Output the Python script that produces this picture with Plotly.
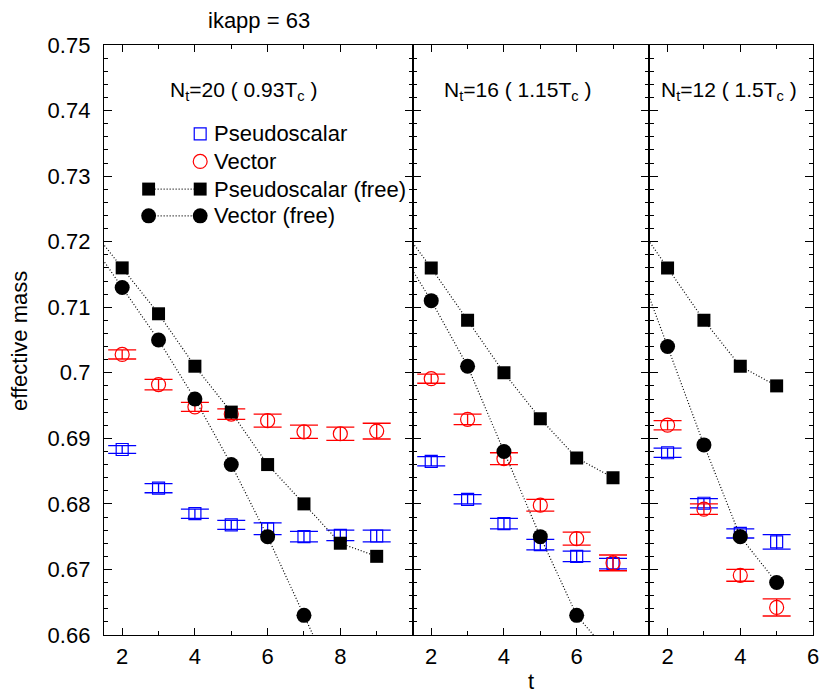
import plotly.graph_objects as go

# ---------------- data ----------------
# Panel 1: N_t = 20 (0.93 Tc)
p1_t = [2, 3, 4, 5, 6, 7, 8, 9]
p1_ps = [0.6883, 0.6824, 0.6785, 0.6768, 0.6762, 0.6750, 0.6752, 0.6751]
p1_ps_err = [0.0006, 0.0007, 0.0007, 0.0007, 0.0009, 0.0008, 0.0008, 0.0009]
p1_v = [0.7028, 0.6982, 0.6948, 0.6937, 0.6927, 0.6910, 0.6907, 0.6911]
p1_v_err = [0.0007, 0.0008, 0.0007, 0.0008, 0.0010, 0.0010, 0.0010, 0.0012]
p1_free_ps_t = [1, 2, 3, 4, 5, 6, 7, 8, 9]
p1_free_ps = [0.723, 0.716, 0.709, 0.701, 0.694, 0.686, 0.680, 0.674, 0.672]
p1_free_v_t = [1, 2, 3, 4, 5, 6, 7, 8]
p1_free_v = [0.721, 0.713, 0.705, 0.696, 0.686, 0.675, 0.663, 0.651]

# Panel 2: N_t = 16 (1.15 Tc)
p2_t = [2, 3, 4, 5, 6, 7]
p2_ps = [0.6865, 0.6807, 0.6770, 0.6738, 0.6720, 0.6709]
p2_ps_err = [0.0007, 0.0007, 0.0008, 0.0008, 0.0008, 0.0008]
p2_v = [0.6991, 0.6929, 0.6869, 0.6798, 0.6747, 0.6710]
p2_v_err = [0.0007, 0.0008, 0.0009, 0.0009, 0.0010, 0.0012]
p2_free_ps_t = [1, 2, 3, 4, 5, 6, 7]
p2_free_ps = [0.7235, 0.716, 0.708, 0.700, 0.693, 0.687, 0.684]
p2_free_v_t = [1, 2, 3, 4, 5, 6, 7]
p2_free_v = [0.7200, 0.711, 0.701, 0.688, 0.675, 0.663, 0.6565]

# Panel 3: N_t = 12 (1.5 Tc)
p3_t = [2, 3, 4, 5]
p3_ps = [0.6878, 0.6801, 0.6755, 0.6742]
p3_ps_err = [0.0007, 0.0007, 0.0007, 0.0011]
p3_v = [0.6920, 0.6792, 0.6691, 0.6642]
p3_v_err = [0.0007, 0.0008, 0.0009, 0.0013]
p3_free_ps_t = [1, 2, 3, 4, 5]
p3_free_ps = [0.724, 0.716, 0.708, 0.701, 0.698]
p3_free_v_t = [1, 2, 3, 4, 5]
p3_free_v = [0.719, 0.704, 0.689, 0.675, 0.668]

panel_labels = ["N<sub>t</sub>=20 ( 0.93T<sub>c</sub> )",
                "N<sub>t</sub>=16 ( 1.15T<sub>c</sub> )",
                "N<sub>t</sub>=12 ( 1.5T<sub>c</sub> )"]
x_ranges = [[1.5, 10], [1.5, 8], [1.5, 6]]
x_tickvals = [[2, 4, 6, 8], [2, 4, 6], [2, 4, 6]]
x_minorvals = [[3, 5, 7, 9], [3, 5, 7], [3, 5]]
y_range = [0.66, 0.75]
legend_names = ["Pseudoscalar", "Vector", "Pseudoscalar (free)", "Vector (free)"]

# ---------------- figure ----------------
W, H = 831, 693
ML, MR, MT, MB = 104, 12, 44.5, 58
PW, PH = W - ML - MR, H - MT - MB
FONT = "Liberation Sans, Arial, Helvetica, sans-serif"
FS = 22
BLUE, RED, BLACK = "#0000ff", "#ff0000", "#000000"
DOT = "1px,2px"


def px(x):
    return (x - ML) / PW


def py(y):
    return (H - MB - y) / PH


spans = [r[1] - r[0] for r in x_ranges]
tot = sum(spans)
bounds = [0]
for s in spans:
    bounds.append(bounds[-1] + s / tot)
bounds[-1] = 1.0

fig = go.Figure()

panels = [
    (p1_t, p1_ps, p1_ps_err, p1_v, p1_v_err, p1_free_ps_t, p1_free_ps, p1_free_v_t, p1_free_v),
    (p2_t, p2_ps, p2_ps_err, p2_v, p2_v_err, p2_free_ps_t, p2_free_ps, p2_free_v_t, p2_free_v),
    (p3_t, p3_ps, p3_ps_err, p3_v, p3_v_err, p3_free_ps_t, p3_free_ps, p3_free_v_t, p3_free_v),
]

for i, (t, ps, pse, v, ve, fpt, fps, fvt, fv) in enumerate(panels):
    xa = "x" if i == 0 else f"x{i+1}"
    ya = "y" if i == 0 else f"y{i+1}"
    fig.add_trace(go.Scatter(
        x=t, y=ps, mode="markers", xaxis=xa, yaxis=ya, showlegend=False,
        name=legend_names[0],
        marker=dict(symbol="square-open", size=12, color=BLUE, line=dict(width=1.2, color=BLUE)),
        error_y=dict(type="data", array=pse, visible=True, color=BLUE, thickness=1.3, width=14)))
    fig.add_trace(go.Scatter(
        x=t, y=v, mode="markers", xaxis=xa, yaxis=ya, showlegend=False,
        name=legend_names[1],
        marker=dict(symbol="circle-open", size=14, color=RED, line=dict(width=1.2, color=RED)),
        error_y=dict(type="data", array=ve, visible=True, color=RED, thickness=1.3, width=14)))
    fig.add_trace(go.Scatter(
        x=fpt, y=fps, mode="lines+markers", xaxis=xa, yaxis=ya, showlegend=False,
        name=legend_names[2],
        line=dict(color=BLACK, width=1.2, dash=DOT),
        marker=dict(symbol="square", size=13, color=BLACK)))
    fig.add_trace(go.Scatter(
        x=fvt, y=fv, mode="lines+markers", xaxis=xa, yaxis=ya, showlegend=False,
        name=legend_names[3],
        line=dict(color=BLACK, width=1.2, dash=DOT),
        marker=dict(symbol="circle", size=15, color=BLACK)))

layout = dict(
    width=W, height=H,
    margin=dict(l=ML, r=MR, t=MT, b=MB, pad=0),
    paper_bgcolor="white", plot_bgcolor="white",
    font=dict(family=FONT, size=FS, color="black"),
    showlegend=False,
)

for i in range(3):
    xk = "xaxis" if i == 0 else f"xaxis{i+1}"
    yk = "yaxis" if i == 0 else f"yaxis{i+1}"
    ya = "y" if i == 0 else f"y{i+1}"
    xa = "x" if i == 0 else f"x{i+1}"
    layout[xk] = dict(
        domain=[bounds[i], bounds[i + 1]], range=x_ranges[i], anchor=ya,
        tickmode="array", tickvals=x_tickvals[i],
        ticks="inside", ticklen=7, tickwidth=1.2, tickcolor="black",
        showline=True, linecolor="black", linewidth=1.3, mirror="ticks",
        showgrid=False, zeroline=False,
        tickfont=dict(size=FS), ticklabelstandoff=1,
        minor=dict(tickmode="array", tickvals=x_minorvals[i], ticks="inside",
                   ticklen=4, tickwidth=1.2, tickcolor="black", showgrid=False),
    )
    layout[yk] = dict(
        domain=[0, 1], range=y_range, anchor=xa,
        dtick=0.01, tick0=0.66,
        ticks="inside", ticklen=8, tickwidth=1.2, tickcolor="black",
        showline=True, linecolor="black", linewidth=1.3, mirror="ticks",
        showgrid=False, zeroline=False,
        showticklabels=(i == 0), tickfont=dict(size=FS), ticklabelstandoff=8,
        minor=dict(dtick=0.002, ticks="inside", ticklen=4, tickwidth=1.2,
                   tickcolor="black", showgrid=False),
    )

fig.update_layout(**layout)


def ann(x, y, text, size=FS, xanchor="center", angle=0):
    return dict(x=px(x), y=py(y), xref="paper", yref="paper", text=text,
                showarrow=False, xanchor=xanchor, yanchor="middle",
                textangle=angle, font=dict(size=size))


annotations = [
    ann(260, 20, "ikapp = 63"),
    ann(19, 341, "effective mass", size=22, angle=-90),
    ann(535, 682, "t"),
]
for cx, lab in zip([244.5, 521.5, 734], panel_labels):
    annotations.append(ann(cx, 91, lab, size=21))

rows = [133.5, 161, 188.7, 215.5]
for ry, name in zip(rows, legend_names):
    annotations.append(ann(213, ry, name, xanchor="left"))

shapes = []
s = 6
shapes.append(dict(type="rect", xref="paper", yref="paper",
                   x0=px(201 - s), x1=px(201 + s), y0=py(rows[0] + s), y1=py(rows[0] - s),
                   line=dict(color=BLUE, width=1.2)))
r = 7
shapes.append(dict(type="circle", xref="paper", yref="paper",
                   x0=px(201 - r), x1=px(201 + r), y0=py(rows[1] + r), y1=py(rows[1] - r),
                   line=dict(color=RED, width=1.2)))
for ry in rows[2:]:
    shapes.append(dict(type="line", xref="paper", yref="paper",
                       x0=px(149), x1=px(201), y0=py(ry), y1=py(ry),
                       line=dict(color=BLACK, width=1.2, dash=DOT)))
s = 6.5
r = 7.5
for cx in (149, 201):
    shapes.append(dict(type="rect", xref="paper", yref="paper",
                       x0=px(cx - s), x1=px(cx + s), y0=py(rows[2] + s), y1=py(rows[2] - s),
                       line=dict(width=0), fillcolor=BLACK))
    shapes.append(dict(type="circle", xref="paper", yref="paper",
                       x0=px(cx - r), x1=px(cx + r), y0=py(rows[3] + r), y1=py(rows[3] - r),
                       line=dict(width=0), fillcolor=BLACK))

fig.update_layout(annotations=annotations, shapes=shapes)
fig.write_html("out.html")
